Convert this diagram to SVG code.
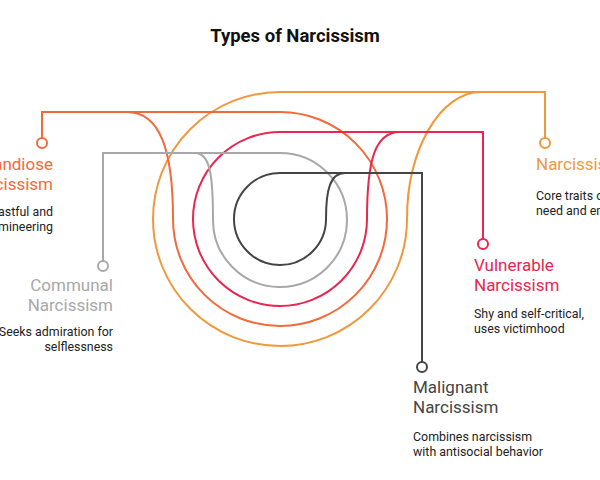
<svg xmlns="http://www.w3.org/2000/svg" width="600" height="480" viewBox="0 0 600 480">
<style>
.c{fill:none;stroke-width:2}
.d{fill:#fff;stroke-width:2}
text{font-family:Roboto,"Liberation Sans",sans-serif}
.t{font-size:17px}
.s{font-size:12.4px;fill:#222}
</style>
<rect width="600" height="480" fill="#fff"/>
<text x="295" y="42" text-anchor="middle" style="font-size:18.5px;font-weight:bold;fill:#111">Types of Narcissism</text>
<g id="connectors">
<path class="c" stroke="#f0983c" d="M545,138 V92 H280 A127,127 0 1 0 407,219 C407,150 440,92 481,92"/>
<path class="c" stroke="#f26a3c" d="M42,138 V112 H280 A107,107 0 1 1 173,219 C173,150 160,112 127,112"/>
<path class="c" stroke="#e8264f" d="M483,239 V132 H280 A87,87 0 1 0 367,219 C367,160 375,132 400,132"/>
<path class="c" stroke="#a8a8a8" d="M103,261 V153 H280 A67,67 0 1 1 213,219 C213,175 210,153 195,153"/>
<path class="c" stroke="#454545" d="M422,362 V173 H280 A46,46 0 1 0 326,219 C326,190 330,173 345,173"/>
</g>
<g id="n-narcissism">
<circle class="d" stroke="#f0983c" cx="545" cy="143" r="5"/>
<text class="t" x="536" y="170" fill="#f0983c">Narcissism</text>
<text class="s" x="536" y="200">Core traits of admiration</text>
<text class="s" x="536" y="215">need and empathy deficit</text>
</g>
<g id="n-grandiose">
<circle class="d" stroke="#f26a3c" cx="42" cy="143" r="5"/>
<text class="t" x="53" y="170" text-anchor="end" fill="#f26a3c">Grandiose</text>
<text class="t" x="53" y="190" text-anchor="end" fill="#f26a3c">Narcissism</text>
<text class="s" x="53" y="216" text-anchor="end">Boastful and</text>
<text class="s" x="53" y="231" text-anchor="end">domineering</text>
</g>
<g id="n-communal">
<circle class="d" stroke="#a8a8a8" cx="103" cy="266" r="5"/>
<text class="t" x="113" y="291" text-anchor="end" fill="#a8a8a8">Communal</text>
<text class="t" x="113" y="311" text-anchor="end" fill="#a8a8a8">Narcissism</text>
<text class="s" x="113" y="336" text-anchor="end">Seeks admiration for</text>
<text class="s" x="113" y="351" text-anchor="end">selflessness</text>
</g>
<g id="n-vulnerable">
<circle class="d" stroke="#e8264f" cx="483" cy="244" r="5"/>
<text class="t" x="474" y="271" fill="#e8264f">Vulnerable</text>
<text class="t" x="474" y="291" fill="#e8264f">Narcissism</text>
<text class="s" x="474" y="318">Shy and self-critical,</text>
<text class="s" x="474" y="333">uses victimhood</text>
</g>
<g id="n-malignant">
<circle class="d" stroke="#454545" cx="422" cy="367" r="5"/>
<text class="t" x="413" y="393" fill="#454545">Malignant</text>
<text class="t" x="413" y="413" fill="#454545">Narcissism</text>
<text class="s" x="413" y="441">Combines narcissism</text>
<text class="s" x="413" y="456">with antisocial behavior</text>
</g>
</svg>
